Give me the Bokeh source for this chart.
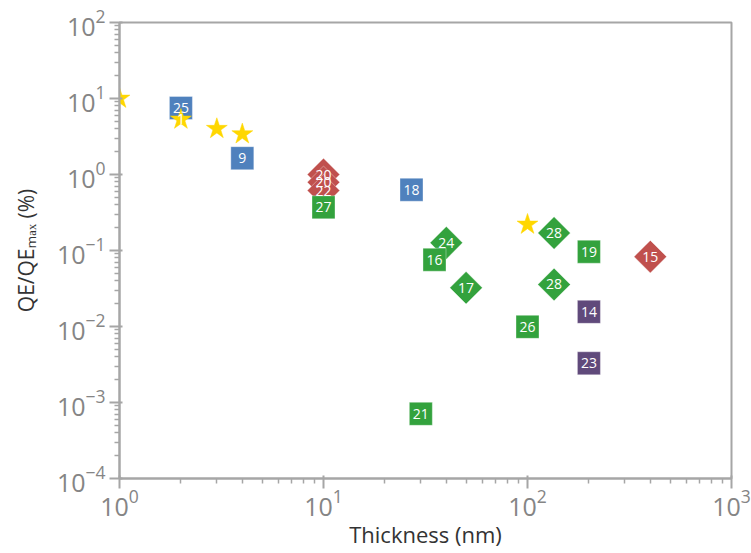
from bokeh.plotting import figure
from bokeh.models import ColumnDataSource, FixedTicker, Range1d, LogTickFormatter
from bokeh.core.properties import value
from bokeh.embed import file_html
from bokeh.resources import INLINE
import math

# Thickness (nm) and normalised quantum efficiency QE/QEmax (%), grouped by marker family
star_x = [1, 2, 3, 4, 100]
star_y = [10, 5.3, 4.0, 3.4, 0.22]
star_labels = ["", "1", "", "", ""]

blue_sq_x = [2, 4, 27]
blue_sq_y = [7.5, 1.64, 0.63]
blue_sq_labels = ["25", "9", "18"]

red_dia_x = [10, 10, 10, 400]
red_dia_y = [1.0, 0.79, 0.615, 0.083]
red_dia_labels = ["20", "20", "22", "15"]

green_sq_x = [10, 35, 200, 100, 30]
green_sq_y = [0.37, 0.0756, 0.0964, 0.0099, 0.00071]
green_sq_labels = ["27", "16", "19", "26", "21"]

green_dia_x = [40, 50, 135, 135]
green_dia_y = [0.126, 0.0323, 0.17, 0.0357]
green_dia_labels = ["24", "17", "28", "28"]

purple_sq_x = [200, 200]
purple_sq_y = [0.0156, 0.00328]
purple_sq_labels = ["14", "23"]

x_decades = [0, 1, 2, 3]
y_decades = [-4, -3, -2, -1, 0, 1, 2]

FONT = "Open Sans"
AXIS_GRAY = "#a6a6a6"


def decade_ticks(exps):
    major = [10.0 ** e for e in exps]
    minor = [m * 10.0 ** e for e in exps[:-1] for m in range(2, 10)]
    return major, minor


p = figure(
    width=751, height=553,
    x_axis_type="log", y_axis_type="log",
    x_range=Range1d(1, 1000), y_range=Range1d(1e-4, 100),
    output_backend="svg", toolbar_location=None,
    min_border_left=119, min_border_right=20,
    min_border_top=22, min_border_bottom=75,
)
p.background_fill_color = "white"
p.border_fill_color = "white"
p.outline_line_color = AXIS_GRAY
p.outline_line_width = 2
p.xgrid.visible = False
p.ygrid.visible = False

xmaj, xmin = decade_ticks(x_decades)
ymaj, ymin = decade_ticks(y_decades)
p.xaxis.ticker = FixedTicker(ticks=xmaj, minor_ticks=xmin)
p.yaxis.ticker = FixedTicker(ticks=ymaj, minor_ticks=ymin)
p.xaxis.formatter = LogTickFormatter()
p.yaxis.formatter = LogTickFormatter()

for ax in (p.xaxis, p.yaxis):
    ax.axis_line_color = AXIS_GRAY
    ax.axis_line_width = 2
    ax.major_tick_line_color = AXIS_GRAY
    ax.major_tick_line_width = 2
    ax.minor_tick_line_color = AXIS_GRAY
    ax.minor_tick_line_width = 1.5
    ax.major_tick_out = 10
    ax.major_tick_in = 3
    ax.minor_tick_out = 5
    ax.minor_tick_in = 0
    ax.major_label_text_font = FONT
    ax.major_label_text_font_size = "25px"
    ax.major_label_text_color = "#858585"
    ax.axis_label_text_font = FONT
    ax.axis_label_text_font_style = "normal"
    ax.axis_label_text_color = "#333333"

p.xaxis.axis_label = "Thickness (nm)"
p.yaxis.axis_label = "QE/QE\u2098\u2090\u2093 (%)"
p.xaxis.axis_label_text_font_size = "22px"
p.yaxis.axis_label_text_font_size = "21px"
p.xaxis.major_label_standoff = 0
p.yaxis.major_label_standoff = 4
p.xaxis.axis_label_standoff = 0
p.yaxis.axis_label_standoff = 14

BLUE = "#4f81bd"
RED = "#c0504d"
GREEN = "#33a23d"
PURPLE = "#604a7b"
GOLD = "#ffd700"

SIZE = 23
all_x, all_y, all_t = [], [], []


def squares(xs, ys, labels, color, angle=0.0):
    src = ColumnDataSource(dict(x=xs, y=ys))
    p.scatter("x", "y", source=src, marker="square", size=SIZE, angle=angle,
              fill_color=color, line_color="white", line_alpha=0.35, line_width=1)
    all_x.extend(xs)
    all_y.extend(ys)
    all_t.extend(labels)


squares(red_dia_x, red_dia_y, red_dia_labels, RED, angle=math.pi / 4)
squares(blue_sq_x, blue_sq_y, blue_sq_labels, BLUE)
squares(green_dia_x, green_dia_y, green_dia_labels, GREEN, angle=math.pi / 4)
squares(green_sq_x, green_sq_y, green_sq_labels, GREEN)
squares(purple_sq_x, purple_sq_y, purple_sq_labels, PURPLE)

star_src = ColumnDataSource(dict(x=star_x, y=star_y))
p.scatter("x", "y", source=star_src, marker="star", size=22,
          fill_color=GOLD, line_color=GOLD, line_width=0.5)
all_x.extend(star_x)
all_y.extend(star_y)
all_t.extend(star_labels)

label_src = ColumnDataSource(dict(x=all_x, y=all_y, t=all_t))
p.text("x", "y", text="t", source=label_src, text_align="center",
       text_baseline="middle", text_color="white",
       text_font=value(FONT), text_font_size="14px")

open("out.html", "w").write(file_html(p, INLINE))
